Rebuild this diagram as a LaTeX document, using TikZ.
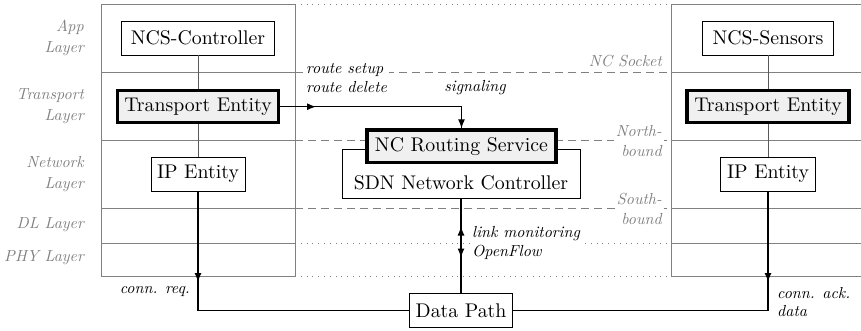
\documentclass[tikz,border=0pt]{standalone}
\usepackage{fontspec}
\setmainfont{lmroman10-regular.otf}[ItalicFont=lmroman10-italic.otf, BoldFont=lmroman10-bold.otf]
\usetikzlibrary{arrows.meta}
\begin{document}
\begin{tikzpicture}[x=1pt,y=-1pt,
  >={Latex[length=9pt,width=7pt]},
  layer/.style={draw=black!50, line width=0.8pt},
  dashline/.style={draw=black!50, line width=0.8pt, dash pattern=on 8pt off 5pt},
  dotline/.style={draw=black!50, line width=0.8pt, dash pattern=on 0.8pt off 5pt},
  box/.style={draw, line width=0.9pt, fill=white, inner sep=0pt, font=\fontsize{19.8}{23}\selectfont},
  thickbox/.style={box, line width=3.5pt, fill=black!6},
  conn/.style={line width=1.2pt},
  vline/.style={draw=black!65, line width=1pt},
  layerlbl/.style={text=black!50, font=\fontsize{16}{20.5}\selectfont\itshape, align=right, anchor=east, inner sep=0pt},
  ifclbl/.style={text=black!50, font=\fontsize{16}{20.5}\selectfont\itshape, align=right, anchor=east, fill=white, inner sep=2pt},
  msglbl/.style={font=\fontsize{16}{18.5}\selectfont\itshape, align=left, inner sep=2pt}
]
\clip (0,0) rectangle (861,331);
% layer columns
\draw[layer] (101,4) rectangle (295,276);
\foreach \yy in {72,140,208,243} \draw[layer] (101,\yy) -- (295,\yy);
\draw[layer] (671,4) rectangle (875,276);
\foreach \yy in {72,140,208,243} \draw[layer] (671,\yy) -- (875,\yy);
% lines between columns
\draw[dotline] (295,4) -- (671,4);
\draw[dashline] (295,72) -- (671,72);
\draw[dashline] (295,140) -- (671,140);
\draw[dashline] (295,208) -- (671,208);
\draw[dotline] (295,243) -- (671,243);
\draw[dotline] (295,276) -- (671,276);
% layer labels
\node[layerlbl] (lapp) at (84,38) {App\\Layer};
\node[layerlbl] (ltr) at (84,106) {Transport\\Layer};
\node[layerlbl] (lnet) at (84,174) {Network\\Layer};
\node[layerlbl] (ldl) at (84,225) {DL Layer};
\node[layerlbl] (lphy) at (84,258) {PHY Layer};
% interface labels
\node[ifclbl, fill=none] (nsock) at (664,61) {NC Socket};
\node[ifclbl] (north) at (664,141) {North-\\bound};
\node[ifclbl] (south) at (664,209) {South-\\bound};
% left stack
\node[box, minimum width=153, minimum height=34] (ncc) at (198,38) {NCS-Controller};
\node[thickbox, minimum width=161, minimum height=32] (teL) at (198,106.7) {Transport Entity};
\node[box, minimum width=94, minimum height=34] (ipL) at (198,174) {IP Entity};
% right stack
\node[box, minimum width=131, minimum height=34] (ncs) at (768,38) {NCS-Sensors};
\node[thickbox, minimum width=162, minimum height=32] (teR) at (768,106.7) {Transport Entity};
\node[box, minimum width=95, minimum height=34] (ipR) at (768,174) {IP Entity};
% SDN controller
\node[box, minimum width=238, minimum height=49, anchor=north] (sdn) at (461,149.3) {};
\node[font=\fontsize{19.8}{23}\selectfont, inner sep=0pt] (sdnlbl) at (461,183) {SDN Network Controller};
\node[thickbox, minimum width=189, minimum height=32.5] (ncrs) at (461.5,146.3) {NC Routing Service};
% data path
\node[box, minimum width=103, minimum height=34] (dp) at (461,310.3) {Data Path};
% internal stack lines
\draw[vline] (ncc) -- (teL);
\draw[vline] (teL) -- (ipL);
\draw[vline] (ncs) -- (teR);
\draw[vline] (teR) -- (ipR);
% coordinates
\coordinate (arrL) at (198,282);
\coordinate (arrR) at (768,282);
\coordinate (arrT) at (316,106.7);
\coordinate (mU) at (461,226.5);
\coordinate (mD) at (461,257.5);
% connectors
\draw[conn] (ipL) |- (dp);
\draw[conn,->] (ipL) -- (arrL);
\draw[conn] (ipR) |- (dp);
\draw[conn,->] (ipR) -- (arrR);
\draw[conn] (teL) -| (ncrs);
\draw[conn,->] (teL) -- (arrT);
\draw[conn,->] (arrT) -| (ncrs);
\draw[conn] (sdn) -- (dp);
\draw[conn,->] (sdn) -- (mD);
\draw[conn,->] (dp) -- (mU);
% message labels
\node[msglbl, fill=white, anchor=north west] (rsetup) at (304,61.5) {route setup\\route delete};
\node[msglbl, anchor=center] (sig) at (475,88) {signaling};
\node[msglbl, fill=white, anchor=west] (lmon) at (470,243) {link monitoring\\OpenFlow};
\node[msglbl, anchor=east] (creq) at (192,292) {conn. req.};
\node[msglbl, anchor=west] (cack) at (775,302) {conn. ack.\\data};
\end{tikzpicture}
\end{document}
